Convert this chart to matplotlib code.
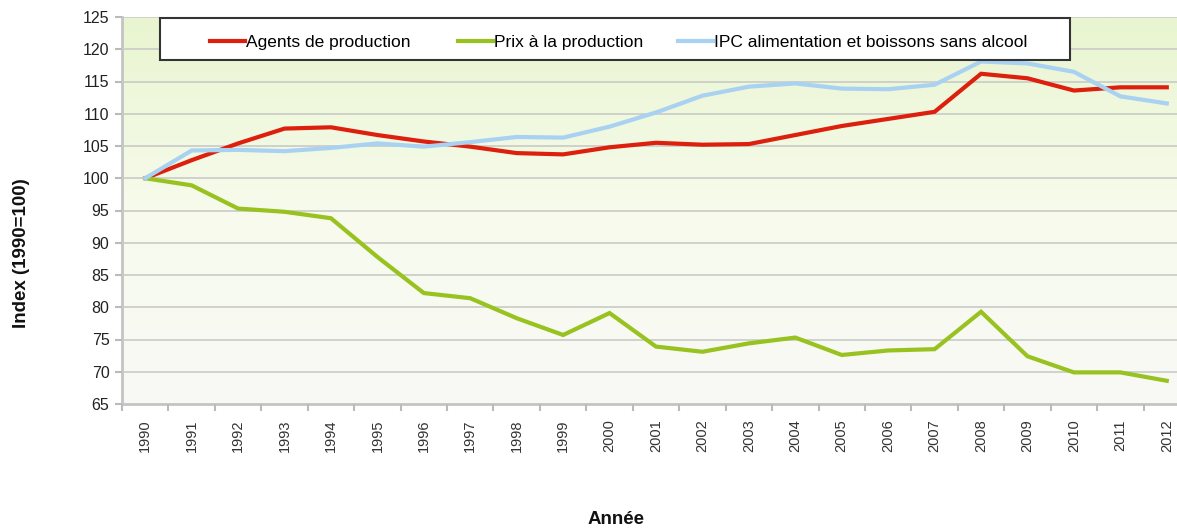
import matplotlib
matplotlib.use("Agg")
import matplotlib.pyplot as plt
import numpy as np
from matplotlib.colors import LinearSegmentedColormap
from matplotlib.patches import Rectangle

plt.rcParams['font.family'] = ['Liberation Sans', 'DejaVu Sans']

years = [str(y) for y in range(1990, 2013)]
agents = [100, 102.8, 105.4, 107.7, 107.9, 106.7, 105.7, 104.9, 103.9, 103.7,
          104.8, 105.5, 105.2, 105.3, 106.7, 108.1, 109.2, 110.3, 116.2, 115.5,
          113.6, 114.1, 114.1]
prix = [100, 98.9, 95.3, 94.8, 93.8, 87.8, 82.2, 81.4, 78.3, 75.7,
        79.1, 73.9, 73.1, 74.4, 75.3, 72.6, 73.3, 73.5, 79.3, 72.4,
        69.9, 69.9, 68.6]
ipc = [100, 104.3, 104.4, 104.2, 104.7, 105.4, 104.9, 105.6, 106.4, 106.3,
       108.0, 110.2, 112.8, 114.2, 114.7, 113.9, 113.8, 114.5, 118.1, 117.8,
       116.5, 112.7, 111.6]
series_names = ["Agents de production", "Prix à la production",
                "IPC alimentation et boissons sans alcool"]
colors = ["#dd1f0e", "#98c21f", "#a9d1f2"]
yticks = list(range(65, 126, 5))

W, H = 1177, 528
fig = plt.figure(figsize=(W/100, H/100), dpi=100)
left, right, top, bottom = 122, 1190, 17, 404
ax_w, ax_h = right-left, bottom-top
ax = fig.add_axes([left/W, 1-bottom/H, ax_w/W, ax_h/H])

x = np.arange(len(years))
ax.set_xlim(-0.5, len(years)-0.5)
ax.set_ylim(65, 125)

# gradient background
cmap = LinearSegmentedColormap.from_list("bg", ["#f9f9f6", "#f7fbec", "#e9f5d0"])
grad = np.linspace(0, 1, 256).reshape(-1, 1)
ax.imshow(grad, cmap=cmap, aspect='auto', origin='lower',
          extent=[-0.5, len(years)-0.5, 65, 125], zorder=0)

ax.set_yticks(yticks)
ax.yaxis.grid(True, color="#c9cbc6", linewidth=1.2, zorder=1)
ax.set_axisbelow(False)

lines = []
for vals, name, c in zip([agents, prix, ipc], series_names, colors):
    ln, = ax.plot(x, vals, color=c, linewidth=3.0, label=name, zorder=3,
                  solid_joinstyle='miter')
    lines.append(ln)

ax.set_xticks(x)
ax.set_xticklabels(years, rotation=90, fontsize=10.5, color="#333333")
ax.set_xticks(np.arange(-0.5, len(years), 1), minor=True)
ax.tick_params(axis='x', which='major', length=0, pad=11)
ax.tick_params(axis='x', which='minor', length=5, color="#bbbbbb", width=1.5)
ax.tick_params(axis='y', length=5, color="#bbbbbb", width=1.5, labelsize=11.5,
               labelcolor="#222222", pad=4)

for s in ['top', 'right']:
    ax.spines[s].set_visible(False)
for s in ['left', 'bottom']:
    ax.spines[s].set_color("#c4c4c4")
    ax.spines[s].set_linewidth(2)

fig.text(22/W, 1-253/H, "Index (1990=100)", fontsize=13.5, fontweight='bold',
         rotation=90, ha='center', va='center', color="#111111")
fig.text(616/W, 1-520/H, "Année", fontsize=13.5, fontweight='bold',
         ha='center', va='center', color="#111111")

# legend frame
fx0, fx1 = (160-left)/ax_w, (1070-left)/ax_w
fy0, fy1 = (bottom-60)/ax_h, (bottom-18)/ax_h
ax.add_patch(Rectangle((fx0, fy0), fx1-fx0, fy1-fy0, transform=ax.transAxes,
                       facecolor="white", edgecolor="#333333", linewidth=1.5,
                       clip_on=False, zorder=4))
# legend entries
entry_px = [210, 458, 678]
ly = (bottom-42)/ax_h
n = len(lines)
for i, (ln, px) in enumerate(zip(lines, entry_px)):
    lg = ax.legend(handles=[ln], loc='center left',
                   bbox_to_anchor=((px-left)/ax_w, ly), frameon=False,
                   fontsize=12.5, handlelength=2.0, handletextpad=0.1,
                   borderpad=0, borderaxespad=0)
    lg.set_zorder(5)
    if i < n-1:
        ax.add_artist(lg)

fig.savefig("out.png", dpi=100)
